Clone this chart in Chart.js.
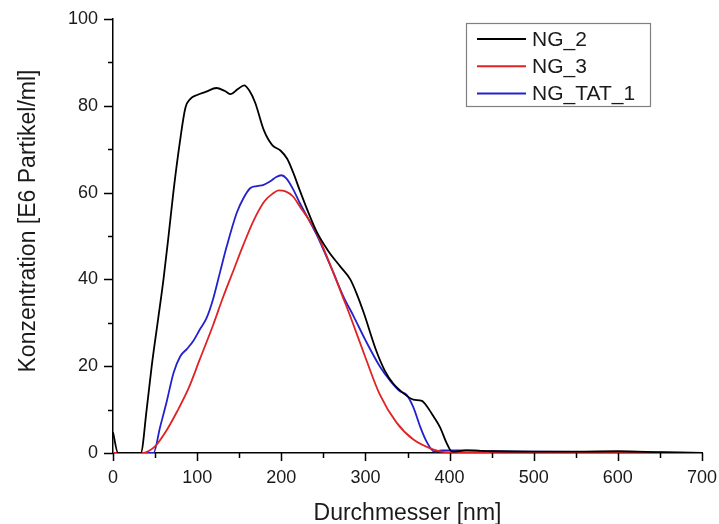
<!DOCTYPE html>
<html>
<head>
<meta charset="utf-8">
<script src="https://cdn.jsdelivr.net/npm/chart.js@4"></script>
<style>
  html, body { margin: 0; padding: 0; background: #fff; }
  canvas { display: block; }
</style>
</head>
<body>
<canvas id="c" width="719" height="524"></canvas>
<script>
// Durchmesser [nm] / Konzentration [E6 Partikel/ml]
const ng2X = [0, 6, 33, 40, 46, 53, 60, 66, 72, 79, 86, 92, 100, 110, 123, 133, 140, 148, 156, 162, 169, 179, 189, 199, 207, 214, 222, 232, 242, 256, 270, 282, 290, 298, 313, 323, 333, 345, 357, 367, 374, 381, 389, 396, 403, 420, 450, 500, 550, 600, 650, 700];
const ng2Y = [4.8, 0, 0, 10, 20, 30, 40, 50, 60.5, 71, 79.5, 81.6, 82.5, 83.2, 84.1, 83.4, 82.7, 83.8, 84.7, 83.5, 80.7, 74.5, 71, 69.7, 67.8, 64.7, 60.5, 55.5, 51, 46.5, 43, 40, 36.5, 32.3, 23.5, 19, 16, 13.8, 12.3, 12.0, 10.5, 8.4, 5.8, 2.5, 0.3, 0.6, 0.4, 0.3, 0.3, 0.4, 0.2, 0];

const ng3X = [0, 36, 43, 50, 63, 76, 90, 103, 119, 131, 143, 155, 167, 180, 190, 197, 205, 214, 222, 232, 242, 252, 262, 272, 282, 300, 317, 337, 357, 381, 395, 450, 500, 600, 700];
const ng3Y = [0, 0, 0.5, 1.5, 5, 9.5, 15, 21.5, 29.5, 36, 42, 48, 53.5, 58, 59.8, 60.5, 60.3, 59.1, 56.8, 54, 50.7, 46.3, 41.5, 36.5, 31.5, 22, 13.5, 7, 3.1, 0.8, 0.2, 0.1, 0.1, 0.1, 0];

const tatX = [0, 48, 56, 64, 72, 80, 88, 96, 103, 111, 119, 127, 135, 147, 155, 163, 171, 179, 187, 194, 200, 206, 214, 222, 232, 242, 252, 262, 274, 286, 300, 317, 330, 341, 349, 357, 365, 373, 382, 390, 420, 450, 500, 600, 700];
const tatY = [0, 0, 6, 12, 18.5, 22.3, 24, 26, 28.4, 31, 35.5, 41.5, 47.5, 55.3, 58.7, 61, 61.5, 61.8, 62.6, 63.6, 64, 63.3, 60.8, 57.6, 54, 50.3, 46, 41.5, 36, 31.5, 26, 20, 16.5, 14.2, 13.4, 10.5, 6.1, 2.5, 0.3, 0.6, 0.6, 0.4, 0.3, 0.2, 0];

const seriesNames = ['NG_2', 'NG_3', 'NG_TAT_1'];
const seriesColors = ['#000000', '#e02222', '#2222cc'];

const xTickLabels = [0, 100, 200, 300, 400, 500, 600, 700];
const yTickLabels = [0, 20, 40, 60, 80, 100];

const toPoints = (xs, ys) => xs.map((x, i) => ({ x, y: ys[i] }));

const FONT = "'Liberation Sans', Arial, sans-serif";
const TEXT = '#1a1a1a';

// minor + major tick marks, drawn on the library scales
const tickMarks = {
    id: 'tickMarks',
    afterDraw(chart) {
        const { ctx, scales: { x, y }, chartArea } = chart;
        ctx.save();
        ctx.strokeStyle = '#000';
        ctx.lineWidth = 1.5;
        ctx.beginPath();
        for (let v = 0; v <= 700; v += 50) {
            const px = Math.round(x.getPixelForValue(v)) + 0.5;
            const len = v % 100 === 0 ? 8 : 5;
            ctx.moveTo(px, chartArea.bottom);
            ctx.lineTo(px, chartArea.bottom + len);
        }
        for (let v = 0; v <= 100; v += 10) {
            const py = Math.round(y.getPixelForValue(v)) + 0.5;
            const len = v % 20 === 0 ? 9 : 5;
            ctx.moveTo(chartArea.left, py);
            ctx.lineTo(chartArea.left - len, py);
        }
        ctx.stroke();
        ctx.restore();
    },
};

// axis titles
const axisTitles = {
    id: 'axisTitles',
    afterDraw(chart) {
        const { ctx, chartArea } = chart;
        ctx.save();
        ctx.fillStyle = TEXT;
        ctx.font = `23px ${FONT}`;
        ctx.textAlign = 'center';
        ctx.textBaseline = 'alphabetic';
        ctx.fillText('Durchmesser [nm]', (chartArea.left + chartArea.right) / 2, 520);
        ctx.translate(35, 221);
        ctx.rotate(-Math.PI / 2);
        ctx.fillText('Konzentration [E6 Partikel/ml]', 0, 0);
        ctx.restore();
    },
};

// boxed legend inside the plot
const boxLegend = {
    id: 'boxLegend',
    afterDraw(chart) {
        const { ctx } = chart;
        const x0 = 466, y0 = 23, w = 184, h = 83;
        ctx.save();
        ctx.fillStyle = '#fff';
        ctx.fillRect(x0, y0, w, h);
        ctx.strokeStyle = '#808080';
        ctx.lineWidth = 1.2;
        ctx.strokeRect(x0 + 0.5, y0 + 0.5, w, h);
        ctx.font = `21px ${FONT}`;
        ctx.textBaseline = 'middle';
        ctx.textAlign = 'left';
        chart.data.datasets.forEach((ds, i) => {
            const yy = 39 + i * 27.2;
            ctx.strokeStyle = ds.borderColor;
            ctx.lineWidth = 2;
            ctx.beginPath();
            ctx.moveTo(477, yy);
            ctx.lineTo(526, yy);
            ctx.stroke();
            ctx.fillStyle = TEXT;
            ctx.fillText(ds.label, 532, yy + 1);
        });
        ctx.restore();
    },
};

const datasets = [
    toPoints(ng2X, ng2Y),
    toPoints(ng3X, ng3Y),
    toPoints(tatX, tatY),
].map((data, i) => ({
    label: seriesNames[i],
    data,
    borderColor: seriesColors[i],
    backgroundColor: seriesColors[i],
    borderWidth: 1.8,
    pointRadius: 0,
    fill: false,
    cubicInterpolationMode: 'monotone',
}));

new Chart(document.getElementById('c'), {
    type: 'line',
    data: { datasets },
    options: {
        responsive: false,
        animation: false,
        layout: { padding: { top: 19, right: 17, left: 0, bottom: 0 } },
        plugins: {
            legend: { display: false },
            tooltip: { enabled: false },
        },
        scales: {
            x: {
                type: 'linear',
                min: 0,
                max: 700,
                afterFit: s => { s.height = 71; s.paddingLeft = 0; s.paddingRight = 0; },
                afterBuildTicks: s => { s.ticks = xTickLabels.map(v => ({ value: v })); },
                grid: { display: true, drawOnChartArea: false, drawTicks: false },
                border: { display: true, color: '#000', width: 1.5 },
                ticks: { color: TEXT, padding: 14, maxRotation: 0, font: { family: FONT, size: 18 } },
            },
            y: {
                min: 0,
                max: 100,
                afterFit: s => { s.width = 113; s.paddingTop = 0; s.paddingBottom = 0; },
                afterBuildTicks: s => { s.ticks = yTickLabels.map(v => ({ value: v })); },
                grid: { display: true, drawOnChartArea: false, drawTicks: false },
                border: { display: true, color: '#000', width: 1.5 },
                ticks: { color: TEXT, padding: 15, font: { family: FONT, size: 18 } },
            },
        },
    },
    plugins: [tickMarks, axisTitles, boxLegend],
});
</script>
</body>
</html>
